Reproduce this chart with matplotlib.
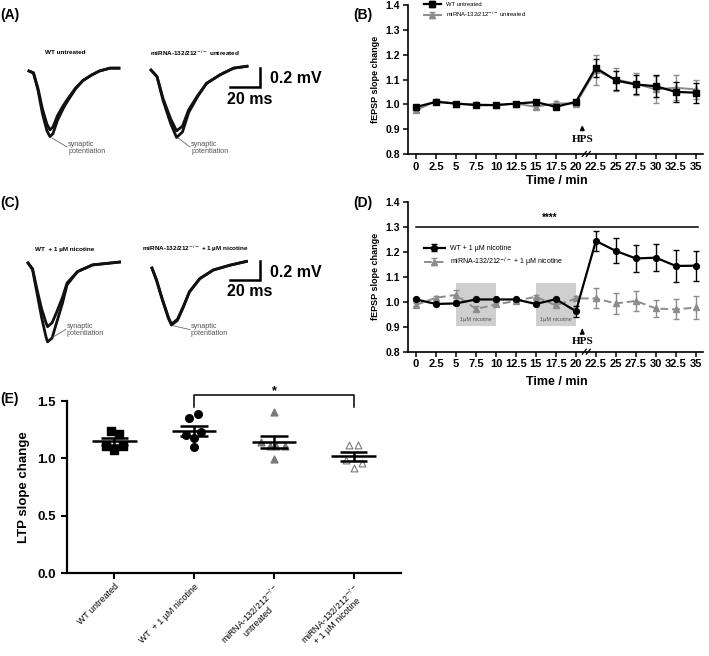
import numpy as np
import matplotlib.pyplot as plt

plt.rcParams['font.family'] = ['Liberation Sans', 'DejaVu Sans']

W, H = 709, 656
KO = "miRNA-132/212$^{-/-}$"

# ---- (A)/(C) representative fEPSP traces: ms from trace start, mV from baseline
a_wt_t = [0, 3, 6, 9, 12, 14, 16, 19, 23, 26, 31, 36, 42, 47, 54, 60]
a_wt_post = [0.0, -0.02, -0.20, -0.45, -0.63, -0.69, -0.66, -0.52, -0.39, -0.31, -0.19, -0.10, -0.04, 0.00, 0.03, 0.03]
a_wt_pre = [0.0, -0.02, -0.18, -0.40, -0.56, -0.62, -0.59, -0.47, -0.36, -0.29, -0.18, -0.10, -0.04, 0.00, 0.03, 0.03]
a_ko_t = [0, 4, 8, 13, 17, 21, 25, 31, 37, 46, 55, 64]
a_ko_post = [0.0, -0.07, -0.32, -0.56, -0.71, -0.65, -0.45, -0.28, -0.14, -0.05, 0.02, 0.04]
a_ko_pre = [0.0, -0.07, -0.30, -0.51, -0.64, -0.59, -0.42, -0.27, -0.14, -0.05, 0.02, 0.04]

c_wt_t = [0, 3, 6, 9, 12, 13, 16, 19, 23, 26, 33, 43, 61]
c_wt_post = [0.0, -0.07, -0.32, -0.57, -0.78, -0.83, -0.79, -0.63, -0.42, -0.23, -0.09, -0.02, 0.01]
c_wt_pre = [0.0, -0.06, -0.28, -0.48, -0.63, -0.67, -0.63, -0.52, -0.36, -0.21, -0.09, -0.02, 0.01]
c_ko_t = [0, 3, 7, 11, 13, 17, 21, 25, 32, 41, 52, 63]
c_ko_post = [0.0, -0.13, -0.34, -0.53, -0.60, -0.55, -0.41, -0.25, -0.11, -0.02, 0.03, 0.07]
c_ko_pre = [0.0, -0.12, -0.33, -0.52, -0.59, -0.54, -0.40, -0.25, -0.11, -0.02, 0.03, 0.07]

# ---- (B)/(D) time course
time_min = [0, 2.5, 5, 7.5, 10, 12.5, 15, 17.5, 20, 22.5, 25, 27.5, 30, 32.5, 35]
time_labels = ["0", "2.5", "5", "7.5", "10", "12.5", "15", "17.5", "20",
               "22.5", "25", "27.5", "30", "32.5", "35"]

wt_b = [0.989, 1.010, 1.003, 0.997, 0.997, 1.003, 1.009, 0.990, 1.010, 1.147, 1.096, 1.080, 1.073, 1.050, 1.047]
wt_b_err = [0.006, 0.005, 0.004, 0.004, 0.004, 0.004, 0.006, 0.005, 0.006, 0.035, 0.040, 0.040, 0.045, 0.040, 0.040]
ko_b = [0.976, 1.013, 1.003, 1.000, 0.997, 1.003, 0.990, 1.004, 1.003, 1.137, 1.100, 1.083, 1.060, 1.067, 1.060]
ko_b_err = [0.008, 0.006, 0.005, 0.005, 0.004, 0.004, 0.010, 0.008, 0.008, 0.060, 0.045, 0.045, 0.055, 0.050, 0.040]

wt_d = [1.009, 0.991, 0.993, 1.009, 1.009, 1.009, 0.991, 1.010, 0.962, 1.243, 1.203, 1.173, 1.176, 1.143, 1.144]
wt_d_err = [0.005, 0.005, 0.005, 0.005, 0.005, 0.005, 0.006, 0.005, 0.022, 0.040, 0.050, 0.053, 0.053, 0.064, 0.060]
ko_d = [0.987, 1.016, 1.027, 0.971, 0.989, 1.003, 1.020, 0.985, 1.013, 1.013, 0.993, 1.003, 0.973, 0.969, 0.977]
ko_d_err = [0.006, 0.008, 0.020, 0.010, 0.006, 0.005, 0.006, 0.008, 0.008, 0.040, 0.043, 0.040, 0.035, 0.040, 0.045]

nicotine_windows = [(5, 10), (15, 20)]
hfs_time = 20.8

# ---- (E) LTP per slice
e_groups = ["WT untreated", "WT  + 1 \u00b5M nicotine",
            KO + "\nuntreated", KO + "\n+ 1 \u00b5M nicotine"]
e_wt = [1.24, 1.21, 1.11, 1.07, 1.11]
e_wt_nic = [1.35, 1.39, 1.20, 1.18, 1.23, 1.10]
e_ko = [1.40, 1.14, 1.11, 1.11, 1.11, 0.99]
e_ko_nic = [1.116, 1.116, 0.985, 0.956, 0.913]


def px_axes(fig, left, top, right, bottom):
    return fig.add_axes([left / W, 1 - bottom / H, (right - left) / W, (bottom - top) / H])


fig = plt.figure(figsize=(W / 100, H / 100), dpi=100)

# ---------------- trace panels
def trace_panel(ax, traces, titles, title_pos, notes, bar_y, txt_y, base_top):
    ax.set_xlim(0, 355 / 1.5)
    ax.set_ylim(base_top[0], base_top[1])
    ax.axis("off")
    for t, post, pre, x0, y0 in traces:
        ax.plot(np.array(t) + x0, np.array(post) + y0, color="#111111", lw=2.0)
        ax.plot(np.array(t) + x0, np.array(pre) + y0, color="#111111", lw=2.0)
    for (tx, ty), s in zip(title_pos, titles):
        ax.text(tx, ty, s, fontsize=4.6, fontweight="bold", ha="left", va="center")
    for (p0, p1) in notes:
        ax.plot([p0[0], p1[0]], [p0[1], p1[1]], color="#666666", lw=0.6)
        ax.text(p1[0] + 0.8, p1[1] - 0.01, "synaptic\npotentiation", fontsize=5.2,
                color="#555555", ha="left", va="center", linespacing=1.0)
    # scale bar 20 ms / 0.2 mV
    ax.plot([153.3, 173.3, 173.3], [bar_y, bar_y, bar_y + 0.2], color="black", lw=1.8,
            solid_joinstyle="miter")
    ax.text(180, txt_y[0], "0.2 mV", fontsize=11.5, fontweight="bold", ha="left", va="center")
    ax.text(151.5, txt_y[1], "20 ms", fontsize=11.5, fontweight="bold", ha="left", va="center")


ax_a = px_axes(fig, 0, 30, 355, 175)
trace_panel(ax_a,
            [(a_wt_t, a_wt_post, a_wt_pre, 19.3, 0.0), (a_ko_t, a_ko_post, a_ko_pre, 100.7, 0.01)],
            ["WT untreated", KO + " untreated"], [(30, 0.19), (100, 0.19)],
            [((34.7, -0.705), (44.7, -0.80)), ((118.7, -0.705), (126.7, -0.80))],
            -0.168, (-0.074, -0.305), (-1.0947, 0.4316))

ax_c = px_axes(fig, 0, 225, 355, 370)
trace_panel(ax_c,
            [(c_wt_t, c_wt_post, c_wt_pre, 18.7, 0.0), (c_ko_t, c_ko_post, c_ko_pre, 101.3, -0.053)],
            ["WT  + 1 \u00b5M nicotine", KO + " + 1 \u00b5M nicotine"], [(23.3, 0.147), (94.7, 0.147)],
            [((35.3, -0.78), (43.8, -0.70)), ((115.3, -0.66), (126.5, -0.70))],
            -0.179, (-0.095, -0.305), (-1.126, 0.4))

# ---------------- time course panels
def time_panel(ax, wt, wt_err, ko, ko_err, ko_ls, wt_fmt, labels, hps_y, xlab_y, leg_fs, leg_anchor):
    ko_h = ax.errorbar(time_min, ko, yerr=ko_err, fmt="^", ls=ko_ls, color="#8c8c8c", ms=4,
                       lw=1.4, elinewidth=1.0, capsize=2.5, capthick=1.0, zorder=3,
                       dashes=(4, 2) if ko_ls == "--" else (None, None))
    wt_h = ax.errorbar(time_min, wt, yerr=wt_err, fmt=wt_fmt, color="black", ms=4.2,
                       lw=1.6, elinewidth=1.0, capsize=2.5, capthick=1.0, zorder=4)
    ax.set_xlim(-1.0, 35.9)
    ax.set_ylim(0.8, 1.4)
    ax.set_xticks(time_min)
    ax.set_xticklabels(time_labels)
    ax.set_yticks([0.8, 0.9, 1.0, 1.1, 1.2, 1.3, 1.4])
    ax.set_yticklabels(["0.8", "0.9", "1.0", "1.1", "1.2", "1.3", "1.4"])
    for lab in ax.get_xticklabels():
        lab.set_fontsize(8)
        lab.set_fontweight("bold")
    for lab in ax.get_yticklabels():
        lab.set_fontsize(7.5)
        lab.set_fontweight("bold")
    ax.tick_params(direction="out", length=3.5, width=1.1, pad=2)
    for s in ["top", "right"]:
        ax.spines[s].set_visible(False)
    for s in ["left", "bottom"]:
        ax.spines[s].set_linewidth(1.2)
    ax.set_ylabel("fEPSP slope change", fontsize=6.5, fontweight="bold")
    ax.yaxis.set_label_coords(-0.095, 0.5)
    ax.set_xlabel("Time / min", fontsize=9, fontweight="bold")
    ax.xaxis.set_label_coords(0.505, xlab_y)
    # axis break between 20 and 22.5
    for bx in (21.05, 21.55):
        ax.plot([bx - 0.25, bx + 0.25], [0.79, 0.81], color="black", lw=0.9,
                clip_on=False, zorder=6)
    ax.annotate("", xy=(hfs_time, hps_y[1]), xytext=(hfs_time, hps_y[0]),
                arrowprops=dict(arrowstyle="-|>", color="black", lw=1.2, mutation_scale=6))
    ax.text(hfs_time, hps_y[2], "HPS", family=["Liberation Serif", "DejaVu Serif"],
            fontweight="bold", fontsize=8, ha="center", va="center")
    ax.legend([wt_h, ko_h], labels, frameon=False, loc="upper left", borderaxespad=0,
              handletextpad=0.8, labelspacing=0.5, fontsize=leg_fs,
              bbox_to_anchor=leg_anchor, handlelength=3.0)


ax_b = px_axes(fig, 408, 5, 703, 154)
time_panel(ax_b, wt_b, wt_b_err, ko_b, ko_b_err, "-", "-s",
           ["WT untreated", KO + " untreated"], (0.885, 0.927, 0.86),
           -0.14, 4.2, (0.045, 1.035))

ax_d = px_axes(fig, 408, 201.7, 703, 351.7)
for (x0, x1) in nicotine_windows:
    ax_d.fill_between([x0, x1], 0.903, 1.076, color="#cfcfcf", lw=0, zorder=1)
    ax_d.text((x0 + x1) / 2, 0.927, "1\u00b5M nicotine", fontsize=4, color="#555555",
              ha="center", va="center", zorder=2)
ax_d.plot([0, 35.3], [1.3, 1.3], color="black", lw=1.1)
ax_d.text(16.75, 1.334, "****", fontsize=7, fontweight="bold", ha="center", va="center")
time_panel(ax_d, wt_d, wt_d_err, ko_d, ko_d_err, "--", "-o",
           ["WT + 1 \u00b5M nicotine", KO + " + 1 \u00b5M nicotine"], (0.873, 0.903, 0.84),
           -0.16, 5, (0.045, 0.73))

# ---------------- (E) scatter with mean +/- SEM
ax_e = px_axes(fig, 67, 401, 401, 573)
e_values = [e_wt, e_wt_nic, e_ko, e_ko_nic]
e_offsets = [[-0.04, 0.06, -0.10, 0.0, 0.11],
             [-0.06, 0.05, -0.10, 0.0, 0.09, 0.0],
             [0.0, -0.16, -0.05, 0.03, 0.14, 0.0],
             [-0.06, 0.05, -0.10, 0.10, 0.0]]
e_style = [dict(marker="s", s=26, facecolor="black", edgecolor="black"),
           dict(marker="o", s=30, facecolor="black", edgecolor="black"),
           dict(marker="^", s=24, facecolor="#7a7a7a", edgecolor="#7a7a7a"),
           dict(marker="^", s=24, facecolor="white", edgecolor="#7a7a7a", linewidths=0.8)]
for i, (vals, offs, st) in enumerate(zip(e_values, e_offsets, e_style)):
    ax_e.scatter(i + np.array(offs), vals, zorder=3, **st)
    m = np.mean(vals)
    sem = np.std(vals, ddof=1) / np.sqrt(len(vals))
    ax_e.hlines(m, i - 0.28, i + 0.28, color="black", lw=1.8, zorder=4)
    ax_e.hlines([m - sem, m + sem], i - 0.17, i + 0.17, color="black", lw=1.8, zorder=4)
    ax_e.vlines(i, m - sem, m + sem, color="black", lw=1.8, zorder=4)

ax_e.plot([1, 1, 3, 3], [1.45, 1.55, 1.55, 1.45], color="black", lw=1.1, clip_on=False)
ax_e.text(2, 1.585, "*", fontsize=9, fontweight="bold", ha="center", va="center")

ax_e.set_xlim(-0.59, 3.59)
ax_e.set_ylim(0, 1.5)
ax_e.set_yticks([0.0, 0.5, 1.0, 1.5])
ax_e.set_yticklabels(["0.0", "0.5", "1.0", "1.5"], fontsize=9.5, fontweight="bold")
ax_e.set_xticks(range(4))
ax_e.set_xticklabels(e_groups, rotation=45, ha="right", rotation_mode="anchor",
                     fontsize=6.4, multialignment="center", linespacing=0.95)
ax_e.tick_params(direction="out", length=4.5, width=1.5)
ax_e.tick_params(axis="x", pad=2)
for s in ["top", "right"]:
    ax_e.spines[s].set_visible(False)
for s in ["left", "bottom"]:
    ax_e.spines[s].set_linewidth(1.6)
ax_e.set_ylabel("LTP slope change", fontsize=9.5, fontweight="bold")
ax_e.yaxis.set_label_coords(-0.11, 0.5)

# ---------------- panel letters
for lab, x, y in [("(A)", 0, 15), ("(B)", 353, 15), ("(C)", 0, 203),
                  ("(D)", 353, 203), ("(E)", 0, 399)]:
    fig.text(x / W, 1 - y / H, lab, fontsize=10, fontweight="bold", ha="left", va="center")

fig.savefig("out.png", dpi=100)
